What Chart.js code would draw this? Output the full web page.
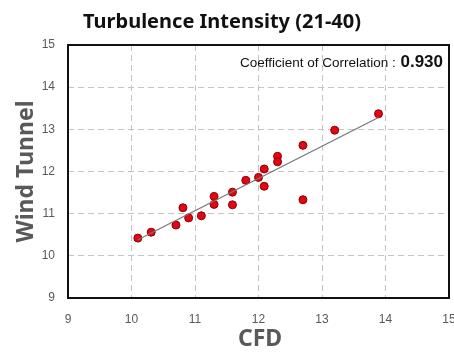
<!DOCTYPE html>
<html>
<head>
<meta charset="utf-8">
<script src="https://cdn.jsdelivr.net/npm/chart.js@4.4.0/dist/chart.umd.min.js"></script>
<style>
  html, body { margin: 0; padding: 0; background: #fff; }
</style>
</head>
<body>
<canvas id="chart" width="454" height="352"></canvas>
<script>
// ---- données ----
const cfdValues    = [10.10, 10.31, 10.70, 10.81, 10.90, 11.10, 11.30, 11.30, 11.59, 11.59,
                      11.80, 12.00, 12.09, 12.09, 12.30, 12.30, 12.70, 12.70, 13.20, 13.89];
const tunnelValues = [10.42, 10.56, 10.73, 11.14, 10.90, 10.95, 11.41, 11.22, 11.51, 11.21,
                      11.79, 11.86, 12.06, 11.65, 12.36, 12.23, 11.33, 12.62, 12.98, 13.37];
const trendX = [10.10, 13.89];
const trendY = [10.38, 13.28];
const tickValues = [9, 10, 11, 12, 13, 14, 15];
const chartTitle = "Turbulence Intensity (21-40)";
const xTitle = "CFD";
const yTitle = "Wind Tunnel";
const corrLabel = "Coefficient of Correlation : ";
const corrValue = "0.930";

const points = cfdValues.map((x, i) => ({ x: x, y: tunnelValues[i] }));
const trend  = trendX.map((x, i) => ({ x: x, y: trendY[i] }));

// ---- textes et cadre ----
const decorPlugin = {
  id: "decor",
  afterDraw(chart) {
    const { ctx, chartArea: a } = chart;
    ctx.save();
    // cadre noir
    ctx.strokeStyle = "#111";
    ctx.lineWidth = 2;
    ctx.strokeRect(a.left, a.top, a.right - a.left, a.bottom - a.top);

    // titre
    ctx.fillStyle = "#111";
    ctx.font = "bold 20px 'Noto Sans'";
    ctx.textAlign = "center";
    ctx.textBaseline = "middle";
    ctx.fillText(chartTitle, 222, 22);

    // titres des axes
    ctx.fillStyle = "#595959";
    ctx.font = "bold 23px 'Noto Sans'";
    ctx.fillText(xTitle, 260, 339);
    ctx.save();
    ctx.translate(26, (a.top + a.bottom) / 2);
    ctx.rotate(-Math.PI / 2);
    ctx.fillText(yTitle, 0, 0);
    ctx.restore();

    // coefficient de corrélation
    ctx.textAlign = "right";
    ctx.textBaseline = "alphabetic";
    ctx.fillStyle = "#111";
    ctx.font = "bold 17px 'Liberation Sans'";
    const w = ctx.measureText(corrValue).width;
    ctx.fillText(corrValue, a.right - 6, 67);
    ctx.font = "13.5px 'Liberation Sans'";
    ctx.fillText(corrLabel, a.right - 7 - w, 67);
    ctx.restore();
  }
};

const gridStyle = {
  color: "#c4c4c4",
  lineWidth: 1,
  drawTicks: false
};

new Chart(document.getElementById("chart"), {
  type: "scatter",
  data: {
    datasets: [
      {
        label: "trend",
        data: trend,
        showLine: true,
        borderColor: "#777",
        borderWidth: 1.2,
        pointRadius: 0
      },
      {
        label: "points",
        data: points,
        backgroundColor: "#e30613",
        borderColor: "#8a0000",
        borderWidth: 1,
        pointRadius: 4
      }
    ]
  },
  options: {
    responsive: false,
    animation: false,
    layout: { padding: { top: 45, right: 3, left: 0, bottom: 0 } },
    plugins: {
      legend: { display: false },
      title: { display: false },
      tooltip: { enabled: false }
    },
    scales: {
      x: {
        type: "linear",
        min: 9, max: 15,
        afterFit: s => { s.height = 54; s.paddingLeft = 0; s.paddingRight = 0; },
        afterBuildTicks: s => { s.ticks = tickValues.map(v => ({ value: v })); },
        grid: gridStyle,
        border: { display: false, dash: [6, 4] },
        ticks: { color: "#595959", font: { size: 12, family: "Liberation Sans" }, padding: 14 }
      },
      y: {
        type: "linear",
        min: 9, max: 15,
        afterFit: s => { s.width = 68; s.paddingTop = 0; s.paddingBottom = 0; },
        afterBuildTicks: s => { s.ticks = tickValues.map(v => ({ value: v })); },
        grid: gridStyle,
        border: { display: false, dash: [6, 4] },
        ticks: { color: "#595959", font: { size: 12, family: "Liberation Sans" }, padding: 13 }
      }
    }
  },
  plugins: [decorPlugin]
});
</script>
</body>
</html>
